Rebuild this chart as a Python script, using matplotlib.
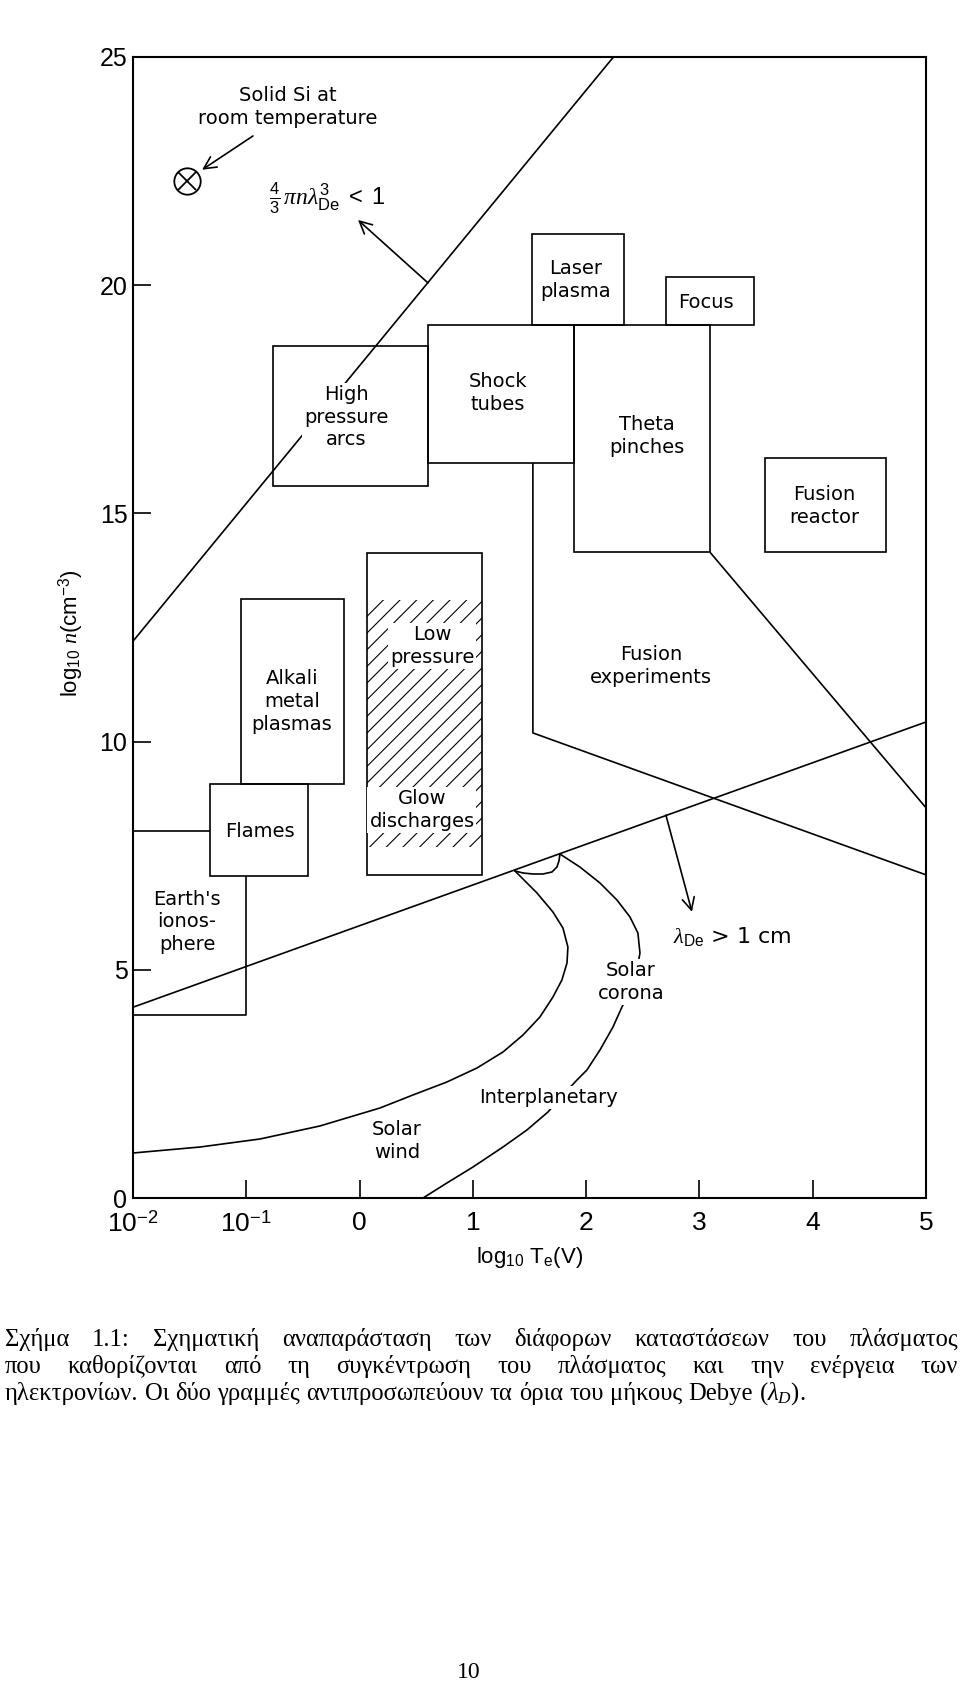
import matplotlib
matplotlib.use('Agg')
import matplotlib.pyplot as plt
from matplotlib.patches import Rectangle

plt.rcParams['font.family'] = ['Liberation Sans', 'DejaVu Sans']
plt.rcParams['mathtext.fontset'] = 'custom'
plt.rcParams['mathtext.rm'] = 'Liberation Sans'
plt.rcParams['mathtext.it'] = 'Liberation Serif:italic'
plt.rcParams['mathtext.bf'] = 'Liberation Sans:bold'
plt.rcParams['mathtext.sf'] = 'Liberation Sans'
plt.rcParams['hatch.linewidth'] = 0.8

# ---------------- data ----------------
x_ticks = [-2, -1, 0, 1, 2, 3, 4, 5]
x_ticklabels = [r'10$^{-2}$', r'10$^{-1}$', '0', '1', '2', '3', '4', '5']
y_ticks = [0, 5, 10, 15, 20, 25]

# rectangular plasma regions (log10 Te axis position, log10 n)
box_names = ['laser', 'focus', 'shock', 'theta', 'reactor', 'arcs', 'lowp', 'alkali', 'flames']
box_x0 = [1.522, 2.704, 0.604, 1.892, 3.578, -0.764, 0.065, -1.047, -1.320]
box_x1 = [2.334, 3.481, 1.892, 3.093, 4.646, 0.604, 1.080, -0.138, -0.455]
box_y0 = [19.13, 19.13, 16.10, 14.15, 14.15, 15.60, 7.08, 9.07, 7.06]
box_y1 = [21.12, 20.18, 19.13, 19.13, 16.21, 18.67, 14.13, 13.12, 9.07]

# hatched part of the glow-discharge box
hatch_x = [0.065, 1.080]
hatch_y = [7.70, 13.10]

# Earth's ionosphere outline
iono_top_x = [-2.0, -1.320]
iono_top_y = [8.04, 8.04]
iono_x = [-1.003, -1.003, -2.0]
iono_y = [7.06, 4.01, 4.01]

# fusion experiments outline
fexp1_x = [1.530, 1.530, 5.0]
fexp1_y = [16.10, 10.19, 7.08]
fexp2_x = [3.093, 5.0]
fexp2_y = [14.15, 8.55]

# Debye limits
debye1_x = [-2.0, 2.241]
debye1_y = [12.20, 25.0]
debye2_x = [-2.0, 5.0]
debye2_y = [4.18, 10.43]

# solar wind curve
wind_x = [-2.000, -1.409, -0.879, -0.350, 0.180, 0.471, 0.771, 1.036, 1.266, 1.442, 1.592,
          1.707, 1.786, 1.831, 1.839, 1.795, 1.707, 1.566, 1.372]
wind_y = [0.986, 1.117, 1.293, 1.578, 1.972, 2.257, 2.542, 2.848, 3.199, 3.570, 3.966,
          4.404, 4.777, 5.149, 5.500, 5.916, 6.266, 6.683, 7.165]

# solar corona / interplanetary curve
corona_x = [1.769, 1.945, 2.122, 2.272, 2.387, 2.457, 2.475, 2.440, 2.387, 2.316, 2.237,
            2.122, 2.007, 1.919, 1.786, 1.663, 1.477, 1.266, 1.001, 0.771, 0.560]
corona_y = [7.537, 7.252, 6.902, 6.529, 6.157, 5.806, 5.368, 4.886, 4.514, 4.185, 3.747,
            3.243, 2.805, 2.585, 2.235, 1.884, 1.490, 1.117, 0.679, 0.329, 0.0]

# small arc joining the two curves
arc_x = [1.372, 1.443, 1.531, 1.619, 1.698, 1.742, 1.760, 1.769]
arc_y = [7.165, 7.121, 7.099, 7.099, 7.143, 7.252, 7.384, 7.537]

# solid Si point
si_x, si_y = -1.523, 22.28

# labels
label_texts = ['Laser\nplasma', 'Focus', 'Shock\ntubes', 'Theta\npinches', 'Fusion\nreactor',
               'High\npressure\narcs', 'Low\npressure', 'Glow\ndischarges',
               'Alkali\nmetal\nplasmas', 'Flames', "Earth's\nionos-\nphere",
               'Fusion\nexperiments', 'Solar\ncorona', 'Interplanetary', 'Solar\nwind',
               'Solid Si at\nroom temperature']
label_x = [1.91, 3.057, 1.222, 2.537, 4.099, -0.120, 0.639, 0.551, -0.597, -0.879, -1.523,
           2.572, 2.395, 1.67, 0.33, -0.632]
label_y = [20.11, 19.63, 17.64, 16.70, 15.16, 17.11, 12.10, 8.50, 10.88, 8.04, 6.05,
           11.66, 4.73, 2.21, 1.25, 23.90]
label_masked = [False, False, False, False, False, True, True, True, False, False, False,
                False, True, True, False, False]

caption_lines = [
    "Σχήμα 1.1: Σχηματική αναπαράσταση των διάφορων καταστάσεων του πλάσματος",
    "που καθορίζονται από τη συγκέντρωση του πλάσματος και την ενέργεια των",
    r"ηλεκτρονίων. Οι δύο γραμμές αντιπροσωπεύουν τα όρια του μήκους Debye ($\lambda_D$).",
]
caption_justify = [True, True, False]

# ---------------- figure ----------------
W, H, DPI = 960, 1682, 100
fig = plt.figure(figsize=(W / DPI, H / DPI), dpi=DPI)
ax = fig.add_axes([133 / W, 1 - 1198 / H, (926 - 133) / W, (1198 - 57) / H])
ax.set_xlim(-2, 5)
ax.set_ylim(0, 25)

LW = 1.2
for x0, x1, y0, y1 in zip(box_x0, box_x1, box_y0, box_y1):
    ax.add_patch(Rectangle((x0, y0), x1 - x0, y1 - y0, fill=False, lw=LW, ec='black', zorder=3))

ax.add_patch(Rectangle((hatch_x[0], hatch_y[0]), hatch_x[1] - hatch_x[0], hatch_y[1] - hatch_y[0],
                       fill=False, lw=0, hatch='//', ec='black', zorder=1))

for xs, ys in [(iono_top_x, iono_top_y), (iono_x, iono_y), (fexp1_x, fexp1_y), (fexp2_x, fexp2_y),
               (debye1_x, debye1_y), (debye2_x, debye2_y)]:
    ax.plot(xs, ys, color='black', lw=LW, zorder=2, solid_capstyle='butt')

for xs, ys in [(wind_x, wind_y), (corona_x, corona_y), (arc_x, arc_y)]:
    ax.plot(xs, ys, color='black', lw=LW, zorder=2, solid_joinstyle='round')

# solid Si marker
ax.plot([si_x], [si_y], marker='o', ms=19, mfc='none', mec='black', mew=1.3, zorder=4)
ax.plot([si_x], [si_y], marker='x', ms=13.5, mec='black', mew=1.3, zorder=4)

arrow_kw = dict(arrowstyle='->', lw=1.2, color='black', mutation_scale=22, shrinkA=0, shrinkB=0)
ax.annotate('', xy=(-1.39, 22.53), xytext=(-0.941, 23.27), arrowprops=arrow_kw)
ax.annotate('', xy=(-0.014, 21.43), xytext=(0.604, 20.05), arrowprops=arrow_kw)
ax.annotate('', xy=(2.934, 6.27), xytext=(2.704, 8.39), arrowprops=arrow_kw)

ax.text(-0.80, 21.91, r'$\frac{4}{3}\,\pi n\lambda^{3}_{\mathrm{De}}\ <\ 1$', fontsize=17,
        ha='left', va='center')
ax.text(2.766, 5.72, r'$\lambda_{\mathrm{De}}$ > 1 cm', fontsize=16, family='DejaVu Sans',
        ha='left', va='center')

for t, x, y, m in zip(label_texts, label_x, label_y, label_masked):
    kw = dict(fontsize=14, family='DejaVu Sans', ha='center', va='center', linespacing=1.25,
              zorder=5)
    if m:
        kw['bbox'] = dict(boxstyle='square,pad=0.1', fc='white', ec='none')
    ax.text(x, y, t, **kw)

# axes styling
for s in ax.spines.values():
    s.set_linewidth(1.5)
ax.set_xticks(x_ticks)
ax.set_xticklabels(x_ticklabels)
ax.set_yticks(y_ticks)
ax.tick_params(axis='both', direction='in', length=13, width=1.2, labelsize=18)
ax.tick_params(axis='x', pad=9, labelsize=19)
ax.tick_params(axis='y', pad=4)
ax.xaxis.set_ticks_position('bottom')
ax.yaxis.set_ticks_position('left')

ax.set_xlabel(r'log$_{10}$ T$_{\mathrm{e}}$(V)', fontsize=16)
ax.xaxis.label.set_va('center')
ax.xaxis.set_label_coords(0.5, (1198 - 1258) / 1141)
ax.set_ylabel(r'$\mathrm{log}_{10}\ n(\mathrm{cm}^{-3})$', fontsize=16)
ax.yaxis.label.set_va('center')
ax.yaxis.set_label_coords((71 - 133) / 793, 0.5 + (627 - 633) / 1141)

# caption, justified
fig.canvas.draw()
renderer = fig.canvas.get_renderer()
cap_fs = 17.7
cap_left, cap_right = 5, 958
baselines = [1346, 1373, 1400]
for line, just, base in zip(caption_lines, caption_justify, baselines):
    words = line.split(' ')
    texts = [fig.text(0, 1 - base / H, w, fontsize=cap_fs, family='Liberation Serif',
                      va='baseline', ha='left') for w in words]
    widths = [t.get_window_extent(renderer).width for t in texts]
    if just:
        gap = (cap_right - cap_left - sum(widths)) / (len(words) - 1)
    else:
        gap = 0.25 * cap_fs * DPI / 72
    x = cap_left
    for t, w in zip(texts, widths):
        t.set_x(x / W)
        x += w + gap

fig.text(469 / W, 1 - 1678 / H, '10', fontsize=17, family='Liberation Serif', ha='center', va='baseline')

fig.savefig('out.png', dpi=DPI)
